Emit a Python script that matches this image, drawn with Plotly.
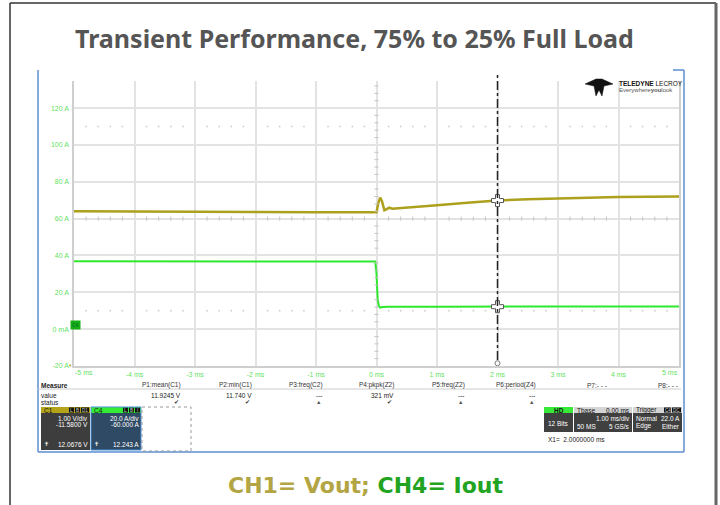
import numpy as np
import plotly.graph_objects as go

W, H = 720, 505

# --- scope data (time in ms, values in displayed grid units, A) ---
c1_t = [-5.0, -4.0, -3.0, -2.0, -1.0, -0.05, 0.0, 0.03, 0.06, 0.09, 0.13, 0.17,
        0.21, 0.26, 0.35, 0.5, 0.75, 1.0, 1.5, 2.0, 2.5, 3.0, 3.5, 4.0, 4.5, 5.0]
c1_v = [64.0, 64.0, 63.8, 63.6, 63.4, 63.3, 63.5, 68.5, 71.4, 69.5, 64.6, 65.2,
        66.0, 65.4, 65.6, 65.9, 66.5, 67.2, 68.6, 69.8, 70.5, 71.0, 71.5, 71.7, 71.9, 72.0]

c4_t = [-5.0, -3.0, -1.0, -0.02, 0.0, 0.02, 0.04, 0.06, 0.1, 0.2, 1.0, 2.0, 3.0, 4.0, 5.0]
c4_v = [36.8, 36.8, 36.7, 36.7, 30.0, 16.0, 12.5, 11.7, 12.0, 12.2, 12.2, 12.2, 12.3, 12.3, 12.3]

x_ticks = [-5, -4, -3, -2, -1, 0, 1, 2, 3, 4, 5]
x_labels = ["-5 ms", "-4 ms", "-3 ms", "-2 ms", "-1 ms", "0 ms", "1 ms", "2 ms", "3 ms", "4 ms", "5 ms"]
y_ticks = [-20, 0, 20, 40, 60, 80, 100, 120]
y_labels = ["-20 A", "0 mA", "20 A", "40 A", "60 A", "80 A", "100 A", "120 A"]

cursor_x1 = 2.0
trigger_level = 22.0

meas_headers = ["P1:mean(C1)", "P2:min(C1)", "P3:freq(C2)", "P4:pkpk(Z2)",
                "P5:freq(Z2)", "P6:period(Z4)", "P7:- - -", "P8:- - -"]
meas_values = ["11.9245 V", "11.740 V", "---", "321 mV", "---", "---", "", ""]
meas_status = ["ok", "ok", "warn", "ok", "warn", "warn", "", ""]

c1_info = ["1.00 V/div", "-11.5800 V", "12.0676 V"]
c4_info = ["20.0 A/div", "-60.000 A", "12.243 A"]

OLIVE = "#aca01c"
GREEN = "#2ee82e"
LBL = "#5fe35f"


def px(x):
    return x / W


def py(y):
    return 1 - y / H


fig = go.Figure()

fig.add_trace(go.Scatter(x=c1_t, y=c1_v, mode="lines", line=dict(color=OLIVE, width=2.5)))
fig.add_trace(go.Scatter(x=c4_t, y=c4_v, mode="lines", line=dict(color=GREEN, width=2)))

# minor ticks on centre lines and dotted rows
minor_x = [v for v in np.arange(-5, 5.01, 0.2) if abs(v - round(v)) > 1e-6]
minor_y = [v for v in np.arange(-20, 134, 4) if v % 20 != 0]
fig.add_trace(go.Scatter(x=minor_x, y=[60] * len(minor_x), mode="markers",
                         marker=dict(symbol="line-ns", size=3, line=dict(color="#c4c4c4", width=1))))
fig.add_trace(go.Scatter(x=[0] * len(minor_y), y=minor_y, mode="markers",
                         marker=dict(symbol="line-ew", size=3, line=dict(color="#c4c4c4", width=1))))
for row in [110, 10]:
    fig.add_trace(go.Scatter(x=minor_x, y=[row] * len(minor_x), mode="markers",
                             marker=dict(symbol="square", size=1.5, color="#c8c8c8")))

# cursor crosshairs
cross_y = [float(np.interp(cursor_x1, c1_t, c1_v)), float(np.interp(cursor_x1, c4_t, c4_v))]
fig.add_trace(go.Scatter(x=[cursor_x1] * 2, y=cross_y, mode="markers",
                         marker=dict(symbol="cross", size=10, color="white", line=dict(color="#555", width=1))))
fig.add_trace(go.Scatter(x=[cursor_x1], y=[-18.5], mode="markers", cliponaxis=False,
                         marker=dict(symbol="circle", size=5, color="white", line=dict(color="#777", width=1))))
# trigger level marker
fig.add_trace(go.Scatter(x=[5.05], y=[trigger_level], mode="markers", cliponaxis=False,
                         marker=dict(symbol="triangle-left", size=5, color="#22cc22")))

# end labels get aligned to the grid edges separately
mid_labels = ["" if i in (0, len(x_labels) - 1) else s for i, s in enumerate(x_labels)]

fig.update_layout(
    autosize=True, margin=dict(l=0, r=0, t=0, b=0, autoexpand=False),
    paper_bgcolor="white", plot_bgcolor="white", showlegend=False,
    xaxis=dict(domain=[px(74), px(679)], range=[-5, 5], tickvals=x_ticks, ticktext=mid_labels,
               showgrid=True, gridcolor="#e3e3e3", gridwidth=1.5, zeroline=False,
               showline=True, linecolor="#cfcfcf", linewidth=1.5, ticks="", ticklabelstandoff=1,
               automargin=False,
               tickfont=dict(family="Liberation Sans", size=7, color=LBL), fixedrange=True),
    yaxis=dict(domain=[py(366), py(81)], range=[-20, 134.7], tickvals=y_ticks, ticktext=y_labels,
               showgrid=True, gridcolor="#e3e3e3", gridwidth=1.5, zeroline=False,
               showline=True, mirror=True, linecolor="#cfcfcf", linewidth=1.5, ticks="",
               ticklabelstandoff=2, automargin=False,
               tickfont=dict(family="Liberation Sans", size=7, color=LBL), fixedrange=True),
)

shapes = []


def line(x0, y0, x1, y1, color, w=1, dash=None):
    shapes.append(dict(type="line", xref="paper", yref="paper", x0=px(x0), y0=py(y0),
                       x1=px(x1), y1=py(y1), line=dict(color=color, width=w, dash=dash)))


def box(x0, y0, x1, y1, fill=None, color=None, w=0, dash=None):
    shapes.append(dict(type="rect", xref="paper", yref="paper", x0=px(x0), y0=py(y0),
                       x1=px(x1), y1=py(y1), fillcolor=fill,
                       line=dict(color=color or "rgba(0,0,0,0)", width=w, dash=dash)))


def note(x, y, s, size=6.5, color="#222", xa="left", bold=False, family="Liberation Sans"):
    fig.add_annotation(x=px(x), y=py(y), xref="paper", yref="paper", text=s, showarrow=False,
                       xanchor=xa, yanchor="middle", borderpad=0,
                       font=dict(size=size, color=color, family=family, weight=700 if bold else 400))


for xv, s, anchor in [(x_ticks[0], x_labels[0], "left"), (x_ticks[-1], x_labels[-1], "right")]:
    fig.add_annotation(x=xv, xref="x", y=py(372), yref="paper", text=s, showarrow=False,
                       xanchor=anchor, yanchor="middle", borderpad=0,
                       font=dict(family="Liberation Sans", size=7, color=LBL))

# outer frame
line(10, 3, 10, 505, "#333", 1.5)
line(10, 3, 716, 3, "#333", 1.5)
line(716, 3, 716, 505, "#666", 3)

# scope screenshot frame
line(38, 70, 38, 452, "#5b8fd0", 1.5)
line(38, 452, 684, 452, "#5b8fd0", 1.5)
line(684, 70, 684, 452, "#5b8fd0", 1.5)
line(673, 70, 684, 70, "#5b8fd0", 1.5)

# cursor line
shapes.append(dict(type="line", xref="x", yref="paper", x0=cursor_x1, x1=cursor_x1,
                   y0=py(360), y1=py(75), line=dict(color="#222", width=1.5, dash="dashdot")))

# logo
logo = [(585, 84), (596, 79), (602, 79), (613, 84), (604, 86), (602, 96), (599, 90),
        (596, 96), (594, 86)]
path = "M " + " L ".join(f"{px(a):.5f},{py(b):.5f}" for a, b in logo) + " Z"
shapes.append(dict(type="path", xref="paper", yref="paper", path=path, fillcolor="#111",
                   line=dict(color="#111", width=0.5)))
note(618, 83, "<b>TELEDYNE</b> LECROY", size=6.5, color="#111")
note(618, 90, "Everywhere<b>you</b>look", size=6, color="#555")

# channel markers on left
fig.add_annotation(x=px(70), y=py(325), xref="paper", yref="paper", text="C4", showarrow=False,
                   bgcolor="#16b016", font=dict(size=5, color="#063", family="Liberation Sans"),
                   borderpad=1)
note(70, 365, "♦", size=5, color="#c8b020", xa="center")

# measure table
note(40, 385, "Measure", size=6.5, bold=True)
line(38, 389, 681, 389, "#cccccc", 1)
note(40, 395, "value")
note(40, 402, "status")
for i, hd in enumerate(meas_headers):
    xr = 182 + 71 * i
    note(xr, 385, hd, color="#333", xa="right")
    note(xr, 395, meas_values[i], xa="right")
    if meas_status[i] == "ok":
        note(xr - 2, 402, "✔", size=6, color="#333", xa="right")
    elif meas_status[i] == "warn":
        note(xr - 2, 402, "▲", size=5.5, color="#555", xa="right")

# C1 / C4 channel boxes
for x0, x1, head, headtxt, body, info, badges in [
        (41, 90, "#b3a41a", "C1", "#3d3d3d", c1_info, ["L", "B", "D1"]),
        (91, 141, "#35ec35", "C4", "#2f4a64", c4_info, ["L", "B", "I"])]:
    box(x0, 407, x1, 413, fill=head)
    box(x0, 413, x1, 450, fill=body)
    note(x0 + 2, 410, headtxt, size=6.5, color="#111")
    bx = x1 - 1
    for b in reversed(badges):
        bw = 5 if len(b) == 1 else 8
        box(bx - bw, 407.5, bx, 412.5, fill="#111")
        note(bx - bw / 2, 410, b, size=4.5, color="#ccc", xa="center")
        bx -= bw + 1
    note(x1 - 1, 418, info[0], color="white", xa="right")
    note(x1 - 1, 424, info[1], color="white", xa="right")
    note(x1 - 1, 444, info[2], color="white", xa="right")
    note(x0 + 2, 444, "✝", size=6, color="white")
box(91, 407, 141, 450, color="#4a90d9", w=1)
box(142, 407, 191, 451, color="#999", w=1, dash="dot")

# timebase / trigger boxes
box(544, 407, 573, 413, fill="#3ae83a")
box(544, 413, 573, 432, fill="#404040")
note(558.5, 410, "HD", size=6.5, color="#111", xa="center", bold=True)
note(558.5, 423, "12 Bits", color="white", xa="center")
box(574, 407, 632, 413, fill="#d4d4d4")
box(574, 413, 632, 432, fill="#404040")
note(576, 410, "Tbase", color="#111")
note(631, 410, "0.00 ms", color="#111", xa="right")
note(631, 418, "1.00 ms/div", color="white", xa="right")
note(576, 426, "50 MS", color="white")
note(631, 426, "5 GS/s", color="white", xa="right")
box(633, 407, 682, 413, fill="#d4d4d4")
box(633, 413, 682, 432, fill="#404040")
note(635, 410, "Trigger", color="#111")
box(664, 407.5, 671, 412.5, fill="#111")
box(672, 407.5, 681, 412.5, fill="#111")
note(667.5, 410, "C4", size=4.5, color="#ccc", xa="center")
note(676.5, 410, "DC", size=4.5, color="#ccc", xa="center")
note(635, 418, "Normal", color="white")
note(681, 418, f"{trigger_level:.1f} A", color="white", xa="right")
note(635, 426, "Edge", color="white")
note(681, 426, "Either", color="white", xa="right")
note(547, 439, f"X1=  {cursor_x1:.7f} ms", color="#222")

# title and caption
note(354, 38, "Transient Performance, 75% to 25% Full Load", size=25, color="#555555",
     xa="center", bold=True, family="Noto Sans")
fig.add_annotation(x=px(365), y=py(485), xref="paper", yref="paper", showarrow=False,
                   xanchor="center", yanchor="middle",
                   text=f"<span style='color:#b3a544'>CH1= Vout;</span> "
                        f"<span style='color:#22a322'>CH4= Iout</span>",
                   font=dict(size=22, family="DejaVu Sans", weight=700))

fig.update_layout(shapes=shapes)
# fill the window exactly, no page margin
fig.write_html("out.html", config={"displayModeBar": False, "responsive": True},
               default_width="100vw", default_height="100vh",
               post_script="document.body.style.margin='0px';"
                           "document.body.style.overflow='hidden';")
